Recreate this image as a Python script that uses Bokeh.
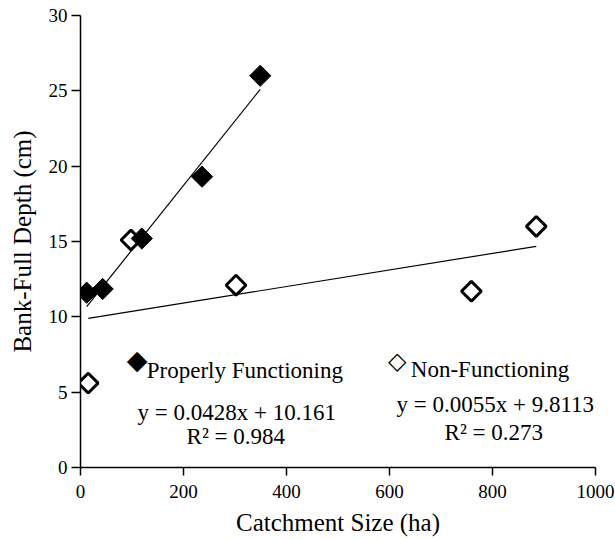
from bokeh.plotting import figure
from bokeh.models import Label, Range1d, FixedTicker
from bokeh.embed import file_html
from bokeh.resources import INLINE
import numpy as np

# Bank-full depth vs catchment size for two reach conditions
pf_catchment = [12, 43, 119, 236, 349]          # ha, properly functioning
pf_depth = [11.6, 11.85, 15.2, 19.3, 26.0]      # cm
nf_catchment = [15, 98, 302, 759, 885]          # ha, non-functioning
nf_depth = [5.6, 15.1, 12.1, 11.7, 16.0]        # cm

# Linear fits as reported
pf_slope, pf_intercept, pf_r2 = 0.0428, 10.161, 0.984
nf_slope, nf_intercept, nf_r2 = 0.0055, 9.8113, 0.273

x_ticks = [0, 200, 400, 600, 800, 1000]
y_ticks = [0, 5, 10, 15, 20, 25, 30]

SERIF = "Liberation Serif"

p = figure(width=615, height=540,
           x_range=Range1d(0, 1000), y_range=Range1d(0, 30),
           output_backend="svg", toolbar_location=None,
           min_border_left=80, min_border_right=20,
           min_border_top=15, min_border_bottom=73)
p.outline_line_color = None
p.xgrid.visible = False
p.ygrid.visible = False
p.background_fill_color = "white"
p.border_fill_color = "white"

for ax, ticks, tick_out in ((p.xaxis[0], x_ticks, 8), (p.yaxis[0], y_ticks, 9)):
    ax.ticker = FixedTicker(ticks=ticks)
    ax.minor_tick_line_color = None
    ax.major_tick_in = 0
    ax.major_tick_out = tick_out
    ax.major_tick_line_width = 1.5
    ax.axis_line_width = 1.5
    ax.axis_line_color = "black"
    ax.major_tick_line_color = "black"
    ax.major_label_text_font = SERIF
    ax.major_label_text_font_size = "19px"
    ax.major_label_text_color = "black"
    ax.axis_label_text_font = SERIF
    ax.axis_label_text_font_size = "25px"
    ax.axis_label_text_font_style = "normal"
    ax.axis_label_text_color = "black"

p.xaxis.axis_label = "Catchment Size (ha)"
p.yaxis.axis_label = "Bank-Full Depth (cm)"
p.xaxis.major_label_standoff = 9
p.xaxis.axis_label_standoff = 8
p.yaxis.major_label_standoff = 4
p.yaxis.axis_label_standoff = 10

# Trend lines over each series' catchment range
pf_fit_x = np.array([min(pf_catchment), max(pf_catchment)])
nf_fit_x = np.array([min(nf_catchment), max(nf_catchment)])
p.line(pf_fit_x, pf_slope * pf_fit_x + pf_intercept, line_color="black", line_width=1.2)
p.line(nf_fit_x, nf_slope * nf_fit_x + nf_intercept, line_color="black", line_width=1.2)

# Data points as diamonds (squares rotated 45 degrees)
p.scatter(nf_catchment, nf_depth, marker="square", size=14, angle=np.pi / 4,
          fill_color="white", line_color="black", line_width=3)
p.scatter(pf_catchment, pf_depth, marker="square", size=15, angle=np.pi / 4,
          fill_color="black", line_color="black", line_width=1)

def add_text(text, x, y, size="23px", font=SERIF, align="left",
             baseline="alphabetic", style="normal"):
    p.add_layout(Label(x=x, y=y, text=text, text_font=font, text_font_size=size,
                       text_font_style=style, text_color="black",
                       text_align=align, text_baseline=baseline))

# Legend entries
add_text("\u25c6", 110, 7.2, size="27px", font="DejaVu Sans", align="center", baseline="middle")
add_text("Properly Functioning", 128.7, 6.42)
add_text("\u25c7", 615, 7.05, size="24px", font="DejaVu Sans", align="center",
         baseline="middle", style="bold")
add_text("Non-Functioning", 641.4, 6.49)

# Fit equations
add_text(f"y = {pf_slope}x + {pf_intercept}", 303.5, 3.65, align="center")
add_text(f"R\u00b2 = {pf_r2}", 301.6, 2.06, align="center")
add_text(f"y = {nf_slope}x + {nf_intercept}", 805.4, 4.16, align="center")
add_text(f"R\u00b2 = {nf_r2}", 802.5, 2.32, align="center")

open("out.html", "w").write(file_html(p, INLINE))
